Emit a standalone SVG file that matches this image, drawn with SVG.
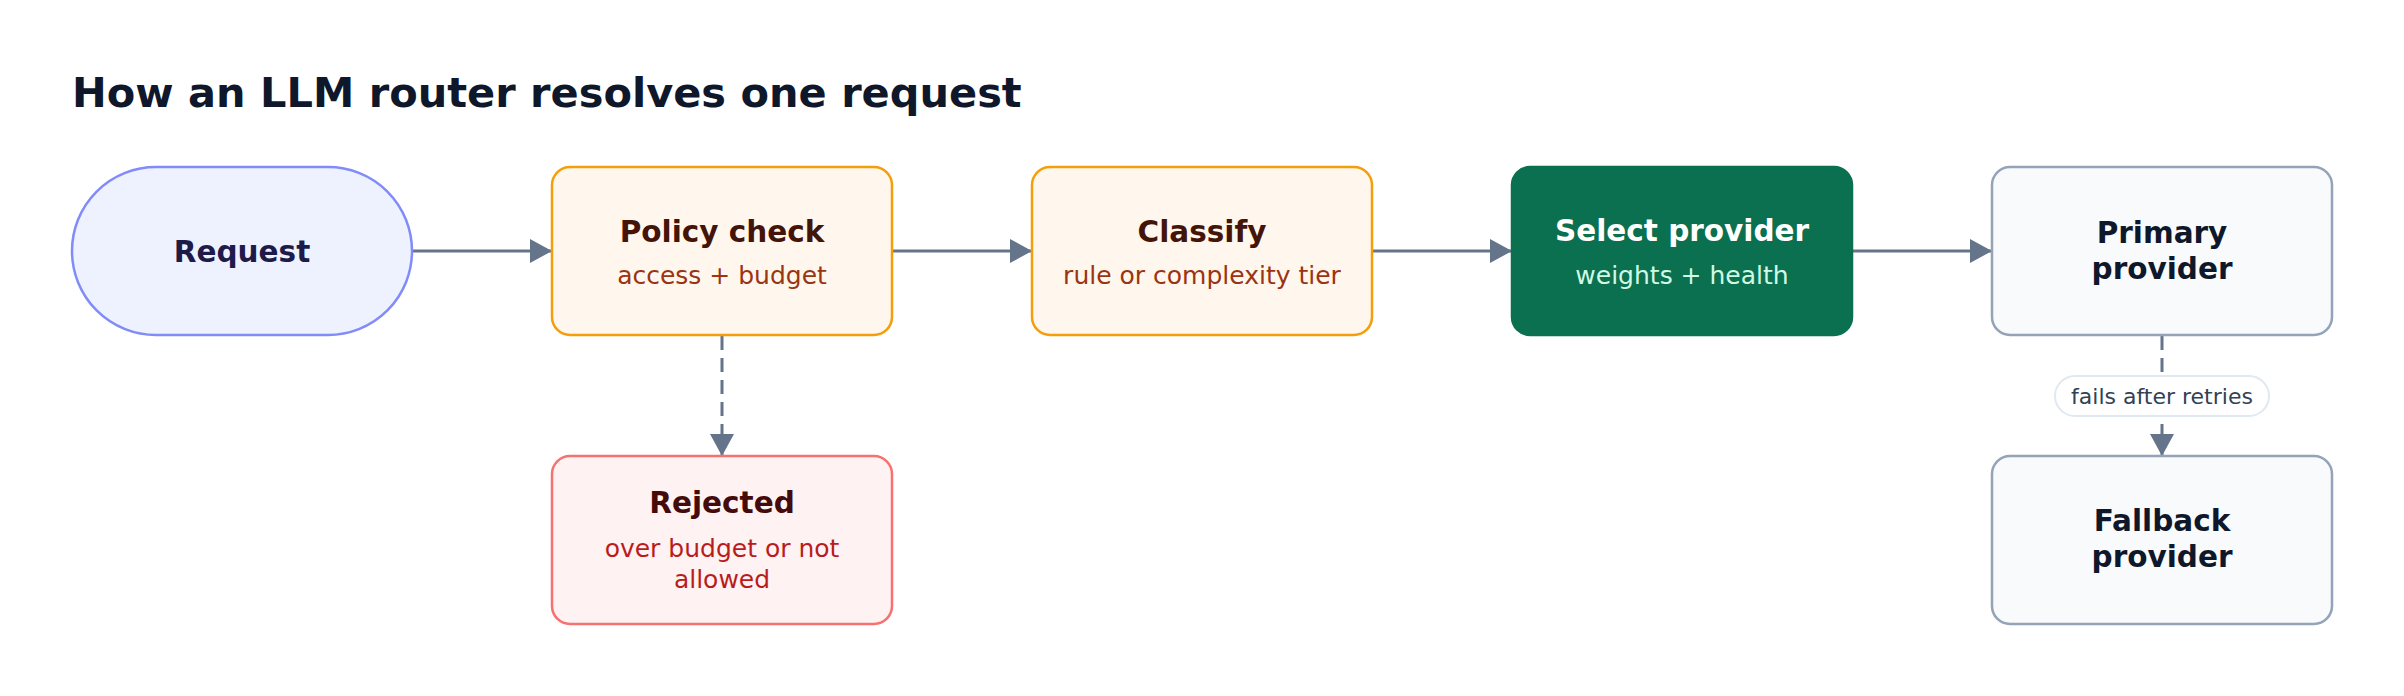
<svg xmlns="http://www.w3.org/2000/svg" width="2404" height="696" viewBox="0 0 2404 696">
<defs>
<style>
text{font-family:"DejaVu Sans","Liberation Sans",sans-serif;text-anchor:middle}
.t{font-weight:bold;font-size:29.5px}
.s{font-size:25px}
.h{font-weight:bold;font-size:41.5px;text-anchor:start;fill:#0f172a}
.edge{stroke:#64748b;stroke-width:3;fill:none}
.dash{stroke-dasharray:14 8}
.amber rect{fill:#fff7ed;stroke:#f59e0b;stroke-width:2.5}
.amber .t{fill:#431407}.amber .s{fill:#9a3412}
.slate rect{fill:#f8fafc;stroke:#94a3b8;stroke-width:2.5}
.slate .t{fill:#0f172a}
</style>
<marker id="ah" viewBox="0 0 22 24" refX="22" refY="12" markerWidth="22" markerHeight="24" markerUnits="userSpaceOnUse" orient="auto">
<path d="M0,0 L22,12 L0,24 Z" fill="#64748b"/>
</marker>
</defs>
<rect width="2404" height="696" fill="#ffffff"/>
<text class="h" x="72" y="107">How an LLM router resolves one request</text>
<g id="connectors">
<line class="edge" x1="412" y1="251" x2="552" y2="251" marker-end="url(#ah)"/>
<line class="edge" x1="892" y1="251" x2="1032" y2="251" marker-end="url(#ah)"/>
<line class="edge" x1="1372" y1="251" x2="1512" y2="251" marker-end="url(#ah)"/>
<line class="edge" x1="1852" y1="251" x2="1992" y2="251" marker-end="url(#ah)"/>
<line class="edge dash" x1="722" y1="336" x2="722" y2="456" marker-end="url(#ah)"/>
<line class="edge dash" x1="2162" y1="336" x2="2162" y2="456" marker-end="url(#ah)"/>
<g id="label-fails">
<rect x="2055" y="376" width="214" height="40" rx="20" fill="#ffffff" stroke="#e2e8f0" stroke-width="2"/>
<text x="2162" y="404" style="font-size:22px;fill:#334155">fails after retries</text>
</g>
</g>
<g id="request">
<rect x="72" y="167" width="340" height="168" rx="84" fill="#eef2ff" stroke="#818cf8" stroke-width="2.5"/>
<text class="t" x="242" y="262" fill="#1e1b4b">Request</text>
</g>
<g id="policy" class="amber">
<rect x="552" y="167" width="340" height="168" rx="18"/>
<text class="t" x="722" y="242">Policy check</text>
<text class="s" x="722" y="284">access + budget</text>
</g>
<g id="classify" class="amber">
<rect x="1032" y="167" width="340" height="168" rx="18"/>
<text class="t" x="1202" y="242">Classify</text>
<text class="s" x="1202" y="284">rule or complexity tier</text>
</g>
<g id="select">
<rect x="1512" y="167" width="340" height="168" rx="18" fill="#0b7050" stroke="#0b7050" stroke-width="2.5"/>
<text class="t" x="1682" y="241" fill="#ffffff">Select provider</text>
<text class="s" x="1682" y="284" fill="#d1fae5">weights + health</text>
</g>
<g id="primary" class="slate">
<rect x="1992" y="167" width="340" height="168" rx="18"/>
<text class="t" x="2162" y="243">Primary</text>
<text class="t" x="2162" y="279">provider</text>
</g>
<g id="rejected">
<rect x="552" y="456" width="340" height="168" rx="18" fill="#fef2f2" stroke="#f87171" stroke-width="2.5"/>
<text class="t" x="722" y="513" fill="#450a0a">Rejected</text>
<text class="s" x="722" y="557" fill="#b91c1c">over budget or not</text>
<text class="s" x="722" y="588" fill="#b91c1c">allowed</text>
</g>
<g id="fallback" class="slate">
<rect x="1992" y="456" width="340" height="168" rx="18"/>
<text class="t" x="2162" y="531">Fallback</text>
<text class="t" x="2162" y="567">provider</text>
</g>
</svg>
